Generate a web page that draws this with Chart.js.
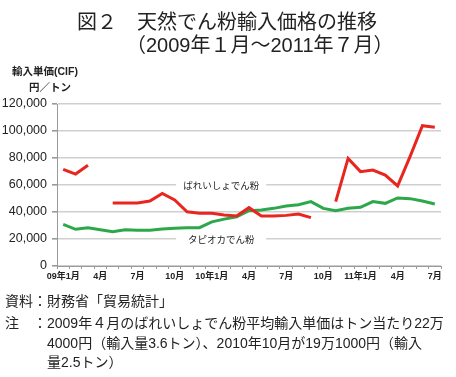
<!DOCTYPE html>
<html>
<head>
<meta charset="utf-8">
<script src="https://cdn.jsdelivr.net/npm/chart.js@4.4.0/dist/chart.umd.min.js"></script>
<style>
  body { margin: 0; width: 456px; height: 377px; position: relative; background: #fff; overflow: hidden;
         font-family: "Liberation Sans", "Noto Sans CJK JP", sans-serif; color: #222; }
  #chart { position: absolute; left: 0; top: 0; }
  .t { position: absolute; white-space: nowrap; line-height: 1; }
</style>
</head>
<body>
<canvas id="chart" width="456" height="377"></canvas>
<div class="t" style="left:77px;top:12px;font-size:20px;">図２　天然でん粉輸入価格の推移</div>
<div class="t" style="left:126px;top:35px;font-size:20px;">（2009年１月～2011年７月）</div>
<div class="t" style="left:12px;top:66px;font-size:10.5px;font-weight:bold;">輸入単価(CIF)</div>
<div class="t" style="left:29px;top:82px;font-size:10.5px;font-weight:bold;">円／トン</div>
<div class="t" style="left:5px;top:294px;font-size:14px;">資料：財務省「貿易統計」</div>
<div class="t" style="left:5px;top:316px;font-size:14px;">注　：2009年４月のばれいしょでん粉平均輸入単価はトン当たり22万</div>
<div class="t" style="left:47px;top:336px;font-size:14px;">4000円（輸入量3.6トン）、2010年10月が19万1000円（輸入</div>
<div class="t" style="left:47px;top:355px;font-size:14px;">量2.5トン）</div>
<script>
const ctx = document.getElementById("chart").getContext("2d");

// 2009年1月 ~ 2011年7月 (monthly)
const months = ["09年1月", "", "", "4月", "", "", "7月", "", "", "10月", "", "",
                "10年1月", "", "", "4月", "", "", "7月", "", "", "10月", "", "",
                "11年1月", "", "", "4月", "", "", "7月"];

// ばれいしょでん粉 (null = off-scale months, see note)
const potato = [71600, 68100, 74600, null, 46700, 46700, 46700, 48100, 53800, 48900, 40200, 39000,
                39000, 37800, 37000, 43200, 37000, 37000, 37500, 38500, 35800, null, 47700, 79700,
                69900, 71100, 67400, 59300, 81000, 103900, 102700];

// タピオカでん粉
const tapioca = [30900, 27200, 28400, 26900, 25400, 26900, 26400, 26400, 27400, 27900, 28400, 28400,
                 32700, 34700, 36500, 41000, 41500, 42700, 44400, 45400, 47700, 42700, 41000, 42700,
                 43500, 47700, 46400, 50400, 49900, 48100, 45900];

const yTicks = [0, 20000, 40000, 60000, 80000, 100000, 120000];

// User Configs
const red = "#e8261f";
const green = "#2ca84a";
const gridColor = "#cfcfcf";
const axisColor = "#9a9a9a";

// series names drawn inside the plot, on a white patch over the grid
const seriesLabels = {
  id: "seriesLabels",
  beforeDatasetsDraw(chart) {
    const c = chart.ctx, xs = chart.scales.x, ys = chart.scales.y;
    const items = [
      { text: "ばれいしょでん粉", at: 12.75, v: 60000 },
      { text: "タピオカでん粉", at: 12.75, v: 20000 },
    ];
    c.save();
    c.font = "9.5px 'Noto Sans CJK JP'";
    c.textAlign = "center";
    c.textBaseline = "middle";
    items.forEach(it => {
      const px = xs.getPixelForValue(it.at);
      const py = ys.getPixelForValue(it.v);
      c.fillStyle = "#fff";
      c.fillRect(px - 45, py - 6, 90, 12);
      c.fillStyle = "#222";
      c.fillText(it.text, px, py);
    });
    c.restore();
  }
};

new Chart(ctx, {
  type: "line",
  data: {
    labels: months,
    datasets: [
      { label: "ばれいしょでん粉", data: potato, borderColor: red, borderWidth: 3, pointRadius: 0, spanGaps: false, tension: 0 },
      { label: "タピオカでん粉", data: tapioca, borderColor: green, borderWidth: 3, pointRadius: 0, tension: 0 },
    ],
  },
  options: {
    responsive: false,
    animation: false,
    layout: { padding: { left: 0, right: 15, top: 104, bottom: 91 } },
    plugins: { legend: { display: false }, tooltip: { enabled: false } },
    scales: {
      x: {
        offset: true,
        grid: { offset: true, drawOnChartArea: false, tickLength: 3, tickColor: axisColor },
        border: { color: axisColor, width: 1 },
        ticks: { autoSkip: false, maxRotation: 0, padding: 2, color: "#222",
                 font: { family: "'Liberation Sans', 'Noto Sans CJK JP'", size: 9, weight: "bold" } },
        afterFit: s => { s.height = 20; },
      },
      y: {
        min: 0, max: 120000,
        afterBuildTicks: s => { s.ticks = yTicks.map(v => ({ value: v })); },
        grid: { color: gridColor, lineWidth: 1.6, tickLength: 5, tickColor: axisColor },
        border: { color: axisColor, width: 1 },
        ticks: { padding: 5, color: "#222",
                 font: { family: "'Liberation Sans'", size: 12.5 },
                 callback: v => v.toLocaleString("en-US") },
        afterFit: s => { s.width = 57; },
      },
    },
  },
  plugins: [seriesLabels],
});
</script>
</body>
</html>
